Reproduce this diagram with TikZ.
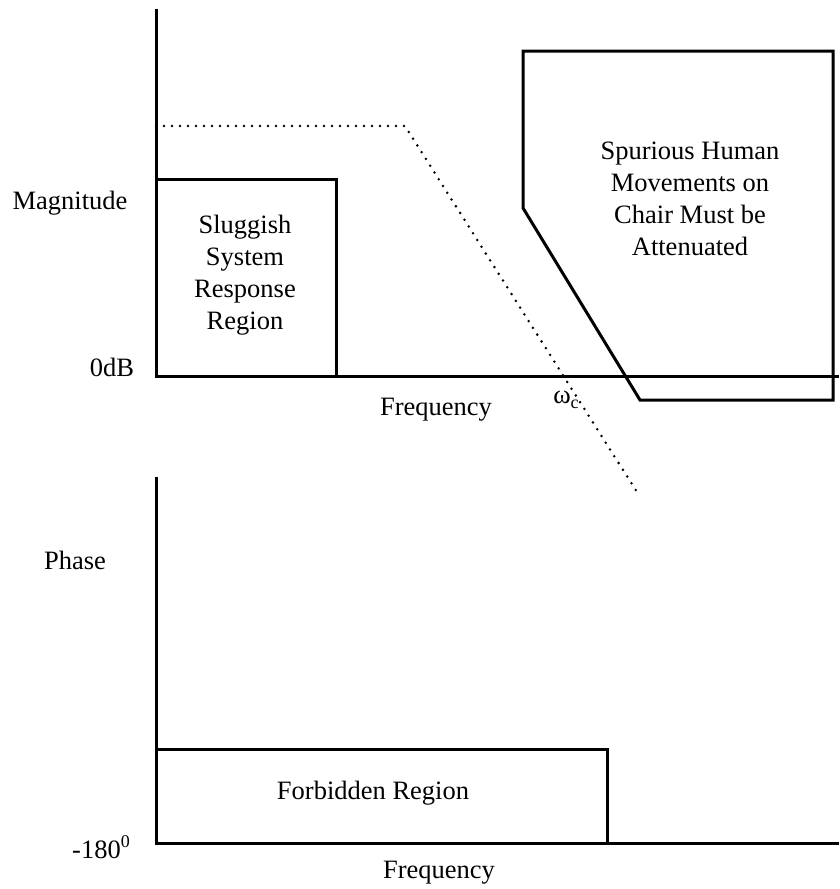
\documentclass[tikz,border=0pt]{standalone}
\usepackage{fontspec}
\setmainfont{Liberation Serif}
\begin{document}
\begin{tikzpicture}[x=1pt,y=-1pt,
  ln/.style={line width=3pt, line join=miter},
  dots/.style={line width=2.8pt, line cap=round, dash pattern=on 0pt off 8pt},
  lbl/.style={inner sep=0pt, font=\fontsize{26.5}{32}\selectfont, align=center}]
\useasboundingbox (0,0) rectangle (839,889);
% coordinates
\coordinate (uTop) at (156,9);
\coordinate (uOrig) at (156,376);
\coordinate (uEnd) at (839,376);
\coordinate (sA) at (156,179);
\coordinate (sB) at (336,179);
\coordinate (sC) at (336,376);
\coordinate (dA) at (156,126);
\coordinate (dB) at (405,126);
\coordinate (dC) at (637,492);
\coordinate (pA) at (523,51);
\coordinate (pB) at (833,51);
\coordinate (pC) at (833,400);
\coordinate (pD) at (640,400);
\coordinate (pE) at (523,208);
\coordinate (lTop) at (156,477);
\coordinate (lOrig) at (156,843);
\coordinate (lEnd) at (839,843);
\coordinate (fA) at (156,749);
\coordinate (fB) at (607,749);
\coordinate (fC) at (607,843);
% magnitude plot
\draw[ln] (uTop) -- (uOrig) -- (uEnd);
\draw[ln] (sA) -- (sB) -- (sC);
\draw[dots] (dA) -- (dB) -- (dC);
\draw[ln] (pA) -- (pB) -- (pC) -- (pD) -- (pE) -- cycle;
% phase plot
\draw[ln] (lTop) -- (lOrig) -- (lEnd);
\draw[ln] (fA) -- (fB) -- (fC);
% labels
\node[lbl] (mag) at (70,203) {Magnitude};
\node[lbl] (odb) at (112,367) {0dB};
\node[lbl] (slug) at (245,275) {Sluggish\\System\\Response\\Region};
\node[lbl] (spur) at (690,199) {Spurious Human\\Movements on\\Chair Must be\\Attenuated};
\node[lbl] (freqU) at (436,410) {Frequency};
\node[lbl] (wc) at (566,400) {ω\raisebox{-0.35ex}{\fontsize{18}{18}\selectfont c}};
\node[lbl] (phase) at (75,560) {Phase};
\node[lbl] (forb) at (373,793) {Forbidden Region};
\node[lbl] (m180) at (101,847) {-180\raisebox{0.85ex}{\fontsize{18}{18}\selectfont 0}};
\node[lbl] (freqL) at (439,873) {Frequency};
\end{tikzpicture}
\end{document}
